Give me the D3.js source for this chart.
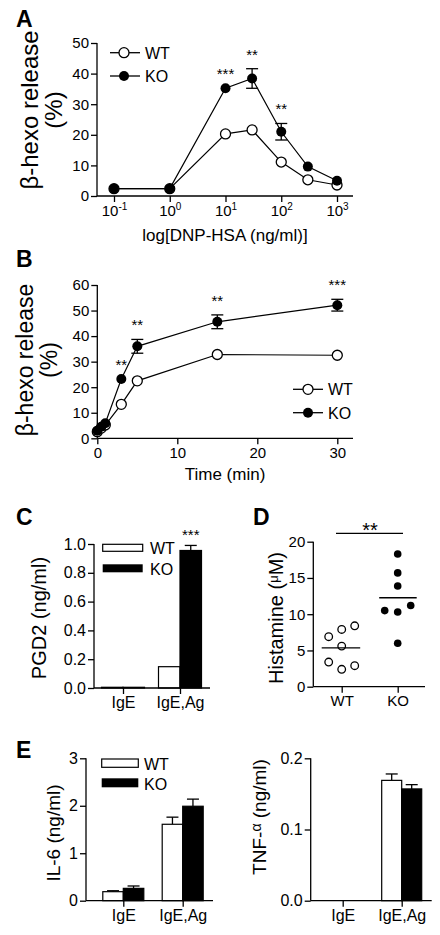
<!DOCTYPE html>
<html><head><meta charset="utf-8">
<script src="https://cdn.jsdelivr.net/npm/d3@7"></script>
<style>body{margin:0;background:#fff} svg text{font-family:"Liberation Sans",Arial,sans-serif;fill:#000}</style>
</head><body><svg id="c" width="440" height="935"></svg>
<script>
// ---- Data ----
const doses = [0.1, 1, 10, 30, 100, 300, 1000];
const doseTicks = [0.1, 1, 10, 100, 1000];
const wtA = [2.4, 2.4, 20.3, 21.6, 11.1, 5.3, 3.6];
const koA = [2.4, 2.4, 35.2, 38.4, 21.0, 9.6, 5.0];
const koAErr = [0, 0, 0, 3.2, 2.7, 0, 0];
const starsA = ["", "", "***", "**", "**", "", ""];

const times = [0, 0.5, 1, 3, 5, 15, 30];
const wtB = [2.6, 4.0, 5.2, 13.3, 22.5, 32.8, 32.5];
const koB = [3.0, 4.5, 5.9, 23.2, 36.0, 45.6, 52.1];
const koBErr = [0, 0, 0, 0, 2.7, 2.7, 2.3];
const starsB = ["", "", "", "**", "**", "**", "***"];

const groups = ["IgE", "IgE,Ag"];
const pgdWT = [0.005, 0.148];
const pgdKO = [0.005, 0.955];
const pgdKOErr = [0, 0.035];
const starsC = ["", "***"];

const histWT = [6.9, 7.9, 8.4, 5.6, 3.4, 2.4, 2.9];
const histKO = [18.3, 15.7, 13.9, 10.5, 10.3, 11.2, 6.0];
const slotWT = [-1, 0, 1, 0, -1, 0, 1];
const slotKO = [0, 0, 0, -1, 0, 1, 0];

const il6WT = [0.19, 1.61];
const il6WTErr = [0.02, 0.15];
const il6KO = [0.26, 1.99];
const il6KOErr = [0.05, 0.15];
const tnfWT = [0, 0.169];
const tnfWTErr = [0, 0.009];
const tnfKO = [0, 0.157];
const tnfKOErr = [0, 0.006];

// ---- Drawing ----
const svg = d3.select("#c");
const SW = 1.3;

function styleAxis(g, fs) {
  g.selectAll("path.domain").remove();
  g.selectAll("line").attr("stroke", "#000").attr("stroke-width", SW);
  g.selectAll("text").attr("font-size", fs).attr("fill", "#000")
    .style("font-family", "'Liberation Sans',Arial,sans-serif");
}
function hline(x1, x2, y) {
  svg.append("line").attr("x1", x1).attr("x2", x2).attr("y1", y).attr("y2", y)
    .attr("stroke", "#000").attr("stroke-width", SW);
}
function vline(x, y1, y2) {
  svg.append("line").attr("x1", x).attr("x2", x).attr("y1", y1).attr("y2", y2)
    .attr("stroke", "#000").attr("stroke-width", SW);
}
function txt(x, y, s, fs, anchor, weight) {
  return svg.append("text").attr("x", x).attr("y", y).attr("font-size", fs)
    .attr("text-anchor", anchor || "start").attr("font-weight", weight || "normal").text(s);
}
function rotLabel(x, y, lines, fs, gap) {
  const t = svg.append("text").attr("transform", `translate(${x},${y}) rotate(-90)`)
    .attr("font-size", fs).attr("text-anchor", "middle");
  lines.forEach((l, i) => {
    const ts = t.append("tspan").attr("x", 0).attr("dy", i === 0 ? 0 : gap);
    if (typeof l === "string") ts.text(l);
    else l(ts, t);
  });
  return t;
}
function yAxis(scale, x, ticks, fmt, fs) {
  const g = svg.append("g").attr("transform", `translate(${x},0)`)
    .call(d3.axisLeft(scale).tickValues(ticks).tickFormat(fmt).tickSize(6).tickPadding(2));
  styleAxis(g, fs);
  const r = scale.range();
  vline(x, r[0], r[1]);
}
function xAxis(scale, y, ticks, fmt, fs, x1, x2) {
  const g = svg.append("g").attr("transform", `translate(0,${y})`)
    .call(d3.axisBottom(scale).tickValues(ticks).tickFormat(fmt).tickSize(6).tickPadding(3));
  styleAxis(g, fs);
  hline(x1, x2, y);
  return g;
}
function errBar(x, y1, y2, cap) {
  vline(x, y1, y2);
  hline(x - cap, x + cap, y2);
}

// ===== Panel A =====
const xA = d3.scaleLog().domain([0.1, 1000]).range([114, 337]);
const yA = d3.scaleLinear().domain([0, 50]).range([196, 43]);
txt(16, 27, "A", 23, "start", "bold");
yAxis(yA, 97, [0, 10, 20, 30, 40, 50], d3.format("d"), 15);
const gxA = xAxis(xA, 196, doseTicks, () => "", 15, 97, 353);
gxA.selectAll(".tick text").each(function (d) {
  const t = d3.select(this);
  t.append("tspan").text("10");
  t.append("tspan").attr("dy", -6).attr("font-size", 10).text(Math.round(Math.log10(d)));
});
txt(225, 241, "log[DNP-HSA (ng/ml)]", 17, "middle");
rotLabel(38, 110, ["β-hexo release", "(%)"], 24, 24);

const lineA = d3.line().x((d, i) => xA(doses[i])).y(d => yA(d));
svg.append("path").attr("d", lineA(wtA)).attr("fill", "none").attr("stroke", "#000").attr("stroke-width", 1.2);
svg.append("path").attr("d", lineA(koA)).attr("fill", "none").attr("stroke", "#000").attr("stroke-width", 1.2);
koA.forEach((v, i) => { if (koAErr[i] > 0) { errBar(xA(doses[i]), yA(v), yA(v + koAErr[i]), 6); errBar(xA(doses[i]), yA(v), yA(v - koAErr[i]), 6); } });
wtA.forEach((v, i) => svg.append("circle").attr("cx", xA(doses[i])).attr("cy", yA(v)).attr("r", 5).attr("fill", "#fff").attr("stroke", "#000").attr("stroke-width", 1.3));
koA.forEach((v, i) => svg.append("circle").attr("cx", xA(doses[i])).attr("cy", yA(v)).attr("r", 5).attr("fill", "#000"));
starsA.forEach((s, i) => { if (s) txt(xA(doses[i]), yA(koA[i] + koAErr[i]) - 9, s, 15, "middle"); });
// legend A
hline(110, 140, 52.7); svg.append("circle").attr("cx", 124).attr("cy", 52.7).attr("r", 5).attr("fill", "#fff").attr("stroke", "#000").attr("stroke-width", 1.3);
txt(145, 58.5, "WT", 16);
hline(110, 140, 76); svg.append("circle").attr("cx", 124).attr("cy", 76).attr("r", 5).attr("fill", "#000");
txt(145, 82, "KO", 16);

// ===== Panel B =====
const xB = d3.scaleLinear().domain([0, 30]).range([97.3, 337.3]);
const yB = d3.scaleLinear().domain([0, 60]).range([438.3, 285]);
txt(16, 267, "B", 23, "start", "bold");
yAxis(yB, 97.3, [0, 10, 20, 30, 40, 50, 60], d3.format("d"), 15);
xAxis(xB, 438.3, [0, 10, 20, 30], d3.format("d"), 15, 97.3, 353);
txt(225, 480, "Time (min)", 17, "middle");
rotLabel(33, 360, ["β-hexo release", "(%)"], 23, 24);
const lineB = d3.line().x((d, i) => xB(times[i])).y(d => yB(d));
svg.append("path").attr("d", lineB(wtB)).attr("fill", "none").attr("stroke", "#000").attr("stroke-width", 1.2);
svg.append("path").attr("d", lineB(koB)).attr("fill", "none").attr("stroke", "#000").attr("stroke-width", 1.2);
koB.forEach((v, i) => { if (koBErr[i] > 0) { errBar(xB(times[i]), yB(v), yB(v + koBErr[i]), 6); errBar(xB(times[i]), yB(v), yB(v - koBErr[i]), 6); } });
wtB.forEach((v, i) => svg.append("circle").attr("cx", xB(times[i])).attr("cy", yB(v)).attr("r", 5).attr("fill", "#fff").attr("stroke", "#000").attr("stroke-width", 1.3));
koB.forEach((v, i) => svg.append("circle").attr("cx", xB(times[i])).attr("cy", yB(v)).attr("r", 5).attr("fill", "#000"));
starsB.forEach((s, i) => { if (s) txt(xB(times[i]), yB(koB[i] + koBErr[i]) - 9, s, 15, "middle"); });
hline(293, 323, 389.3); svg.append("circle").attr("cx", 308).attr("cy", 389.3).attr("r", 5).attr("fill", "#fff").attr("stroke", "#000").attr("stroke-width", 1.3);
txt(328, 395, "WT", 16);
hline(293, 323, 412.7); svg.append("circle").attr("cx", 308).attr("cy", 412.7).attr("r", 5).attr("fill", "#000");
txt(328, 418.5, "KO", 16);

// ===== Panel C =====
const yC = d3.scaleLinear().domain([0, 1]).range([688, 544]);
const xC = d3.scalePoint().domain(groups).range([123, 180]);
const bwC = 21.5;
txt(16, 525, "C", 23, "start", "bold");
groups.forEach((g, i) => {
  svg.append("rect").attr("x", xC(g) - bwC).attr("y", yC(pgdWT[i])).attr("width", bwC).attr("height", yC(0) - yC(pgdWT[i]))
    .attr("fill", "#fff").attr("stroke", "#000").attr("stroke-width", 1.2);
  svg.append("rect").attr("x", xC(g)).attr("y", yC(pgdKO[i])).attr("width", bwC).attr("height", yC(0) - yC(pgdKO[i]))
    .attr("fill", "#000").attr("stroke", "#000").attr("stroke-width", 1.2);
  if (pgdKOErr[i] > 0) errBar(xC(g) + bwC / 2, yC(pgdKO[i]), yC(pgdKO[i] + pgdKOErr[i]), 6);
  if (starsC[i]) txt(xC(g) + bwC / 2, yC(pgdKO[i] + pgdKOErr[i]) - 5, starsC[i], 15, "middle");
});
yAxis(yC, 94, [0, 0.2, 0.4, 0.6, 0.8, 1.0], d3.format(".1f"), 16);
xAxis(xC, 688, groups, d => d, 16, 94, 210);
rotLabel(46, 618, ["PGD2 (ng/ml)"], 20, 0);
svg.append("rect").attr("x", 102.7).attr("y", 544.3).attr("width", 40).attr("height", 7).attr("fill", "#fff").attr("stroke", "#000").attr("stroke-width", 1.2);
txt(150, 554, "WT", 16);
svg.append("rect").attr("x", 102.7).attr("y", 564.3).attr("width", 40).attr("height", 8).attr("fill", "#000");
txt(150, 574.5, "KO", 16);

// ===== Panel D =====
const yD = d3.scaleLinear().domain([0, 20]).range([686.7, 541.7]);
const xD = d3.scalePoint().domain(["WT", "KO"]).range([341.7, 397.7]);
const jit = 13;
txt(253, 525, "D", 23, "start", "bold");
yAxis(yD, 313.3, [0, 5, 10, 15, 20], d3.format("d"), 15);
xAxis(xD, 686.7, ["WT", "KO"], d => d, 15, 313.3, 425);
rotLabel(283, 618, [(ts, t) => { ts.text("Histamine ("); t.append("tspan").attr("font-size", 13).attr("dy", -5).text("μ"); t.append("tspan").attr("dy", 5).text("M)"); }], 20, 0);
histWT.forEach((v, i) => svg.append("circle").attr("cx", xD("WT") + slotWT[i] * jit).attr("cy", yD(v)).attr("r", 3.8).attr("fill", "#fff").attr("stroke", "#000").attr("stroke-width", 1.3));
histKO.forEach((v, i) => svg.append("circle").attr("cx", xD("KO") + slotKO[i] * jit).attr("cy", yD(v)).attr("r", 3.8).attr("fill", "#000"));
hline(xD("WT") - 20, xD("WT") + 18.5, yD(d3.mean(histWT)));
hline(xD("KO") - 18.5, xD("KO") + 19, yD(d3.mean(histKO)));
hline(336, 403, 533.3);
txt(370, 537, "**", 20, "middle");

// ===== Panel E left =====
const yE1 = d3.scaleLinear().domain([0, 3]).range([900.7, 758.3]);
const xE1 = d3.scalePoint().domain(groups).range([123.3, 182.7]);
const bwE = 20.5;
txt(16, 758, "E", 23, "start", "bold");
groups.forEach((g, i) => {
  errBar(xE1(g) - bwE / 2, yE1(il6WT[i]), yE1(il6WT[i] + il6WTErr[i]), 6);
  errBar(xE1(g) + bwE / 2, yE1(il6KO[i]), yE1(il6KO[i] + il6KOErr[i]), 6);
  svg.append("rect").attr("x", xE1(g) - bwE).attr("y", yE1(il6WT[i])).attr("width", bwE).attr("height", yE1(0) - yE1(il6WT[i]))
    .attr("fill", "#fff").attr("stroke", "#000").attr("stroke-width", 1.2);
  svg.append("rect").attr("x", xE1(g)).attr("y", yE1(il6KO[i])).attr("width", bwE).attr("height", yE1(0) - yE1(il6KO[i]))
    .attr("fill", "#000").attr("stroke", "#000").attr("stroke-width", 1.2);
});
yAxis(yE1, 86, [0, 1, 2, 3], d3.format("d"), 16);
xAxis(xE1, 900.7, groups, d => d, 16, 86, 213);
rotLabel(60, 833, ["IL-6 (ng/ml)"], 19, 0);
svg.append("rect").attr("x", 101.7).attr("y", 759).attr("width", 36.6).attr("height", 8.3).attr("fill", "#fff").attr("stroke", "#000").attr("stroke-width", 1.2);
txt(144, 769.5, "WT", 16);
svg.append("rect").attr("x", 101.7).attr("y", 778.3).attr("width", 36.6).attr("height", 9).attr("fill", "#000");
txt(144, 789.5, "KO", 16);

// ===== Panel E right =====
const yE2 = d3.scaleLinear().domain([0, 0.2]).range([900.7, 758.3]);
const xE2 = d3.scalePoint().domain(groups).range([342.7, 401.7]);
const bwE2 = 20;
groups.forEach((g, i) => {
  if (tnfWT[i] > 0) {
    errBar(xE2(g) - bwE2 / 2, yE2(tnfWT[i]), yE2(tnfWT[i] + tnfWTErr[i]), 6);
    svg.append("rect").attr("x", xE2(g) - bwE2).attr("y", yE2(tnfWT[i])).attr("width", bwE2).attr("height", yE2(0) - yE2(tnfWT[i]))
      .attr("fill", "#fff").attr("stroke", "#000").attr("stroke-width", 1.2);
  }
  if (tnfKO[i] > 0) {
    errBar(xE2(g) + bwE2 / 2, yE2(tnfKO[i]), yE2(tnfKO[i] + tnfKOErr[i]), 6);
    svg.append("rect").attr("x", xE2(g)).attr("y", yE2(tnfKO[i])).attr("width", bwE2).attr("height", yE2(0) - yE2(tnfKO[i]))
      .attr("fill", "#000").attr("stroke", "#000").attr("stroke-width", 1.2);
  }
});
yAxis(yE2, 310.7, [0, 0.1, 0.2], d3.format(".1f"), 16);
xAxis(xE2, 900.7, groups, d => d, 16, 310.7, 431.7);
rotLabel(266, 817, [(ts, t) => { ts.text("TNF-"); t.append("tspan").attr("font-size", 14).attr("dy", -5).text("α"); t.append("tspan").attr("dy", 5).text(" (ng/ml)"); }], 19, 0);
</script></body></html>
